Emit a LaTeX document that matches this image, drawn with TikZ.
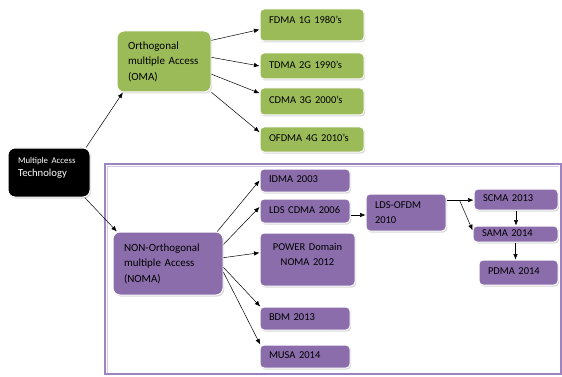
\documentclass[tikz,border=0pt]{standalone}
\usepackage{fontspec}
\setmainfont{Carlito}
\usetikzlibrary{shadows, arrows.meta}
\definecolor{omagreen}{HTML}{9BBB59}
\definecolor{nomapurple}{HTML}{8A6DAA}
\definecolor{frameline}{HTML}{9C84C0}
\definecolor{frameshade}{HTML}{D5CAE6}
\tikzset{
    box/.style={
        rectangle, rounded corners=4pt, draw=white, line width=1pt,
        drop shadow={shadow xshift=1.2pt, shadow yshift=-1.5pt, fill=black!30, opacity=0.5},
        inner xsep=9pt, inner ysep=2pt, align=left, text=black,
        font=\fontsize{10.5}{15}\selectfont
    },
    gbox/.style={box, fill=omagreen},
    pbox/.style={box, fill=nomapurple},
    one/.style={text height=7.5pt, text depth=3pt},
    bigbox/.style={
        box, rounded corners=7pt, inner xsep=11pt,
        font=\fontsize{11}{15.5}\selectfont
    },
    mm/.style={
        -{Latex[length=5.5pt,width=4.5pt]}, line width=0.5pt
    }
}
\begin{document}
\begin{tikzpicture}[x=1pt, y=-1pt]
        \useasboundingbox (0,0) rectangle (562,377);

        % frame round the non-orthogonal part
        \draw[frameline, line width=2pt] (105,164) rectangle (560.5,374);
        \draw[frameshade, line width=1pt] (107,372.5) -- (107,166) -- (559,166);

        \node[box, fill=black, text=white, rounded corners=7pt, inner xsep=10pt,
              text width=62pt, minimum height=49pt,
              font=\fontsize{10.7}{13}\selectfont] (tech) at (49,172.5)
              {{\fontsize{8.8}{10}\selectfont Multiple Access}\\Technology\\[-2pt]\mbox{}};

        % Orthogonal multiple access

        \node[bigbox, fill=omagreen, text width=72pt, minimum height=61pt] (oma) at (164,61.5) {Orthogonal\\multiple Access\\(OMA)};

        \node[gbox, one, text width=86pt, minimum height=32pt, text depth=10pt] (fdma)  at (312,25)    {FDMA 1G 1980’s};
        \node[gbox, one, text width=86pt, minimum height=26pt]                  (tdma)  at (312,66)    {TDMA 2G 1990’s};
        \node[gbox, one, text width=86pt, minimum height=27pt]                  (cdma)  at (312,101.5) {CDMA 3G 2000’s};
        \node[gbox, one, text width=86pt, minimum height=25pt]                  (ofdma) at (312,139.5) {OFDMA 4G 2010’s};

        \path (tech.34) edge[mm] (oma.217)
                (oma.24) edge[mm] (fdma.185)
                (oma.5) edge[mm] (tdma.west)
                (oma.-15) edge[mm] (cdma.171)
                (oma.-33) edge[mm] (ofdma.172);

        % Non-orthogonal multiple access

        \node[bigbox, fill=nomapurple, text width=88pt, minimum height=63pt] (noma) at (168,263.5) {NON-Orthogonal\\multiple Access\\(NOMA)};

        \node[pbox, one, text width=72pt, minimum height=23pt] (idma)    at (305,180.5) {IDMA 2003};
        \node[pbox, one, text width=72pt, minimum height=24pt] (ldscdma) at (305,211)   {LDS CDMA 2006};
        \node[pbox, align=center, text width=77pt, minimum height=53pt] (power) at (307.5,259.5) {POWER Domain\\NOMA 2012\\[-4pt]\mbox{}};
        \node[pbox, one, text width=72pt, minimum height=23pt] (bdm)     at (305,318.5) {BDM 2013};
        \node[pbox, one, text width=72pt, minimum height=23pt] (musa)    at (305,356.5) {MUSA 2014};

        \path (tech.-35) edge[mm] (noma.148)
                (noma.33) edge[mm] (idma.west)
                (noma.19) edge[mm] (ldscdma.175)
                (noma.6) edge[mm] (power.172)
                (noma.-4) edge[mm] (bdm.165)
                (noma.-9) edge[mm] (musa.165);

        % LDS-OFDM and what came after

        \node[pbox, text width=62pt, minimum height=37pt] (ldsofdm) at (406,212.5) {LDS-OFDM\\2010};
        \node[pbox, one, text width=66pt, minimum height=21pt] (scma) at (516,199.5) {SCMA 2013};
        \node[pbox, one, text width=67pt, minimum height=16pt] (sama) at (515.5,234) {SAMA 2014};
        \node[pbox, one, text width=61pt, minimum height=25pt] (pdma) at (518.5,272.5) {PDMA 2014};

        \coordinate (fork) at ([xshift=13pt]ldsofdm.17);

        \path ([yshift=-4pt]ldscdma.east) edge[mm] ([yshift=-4pt]ldscdma.east -| ldsofdm.west)
                (ldsofdm.17) edge[mm] (ldsofdm.17 -| scma.west)
                (fork) edge[mm] (sama.175)
                (scma.south) edge[mm] (scma.south |- sama.north)
                (sama.south) edge[mm] (sama.south |- pdma.north);
    \end{tikzpicture}
\end{document}
